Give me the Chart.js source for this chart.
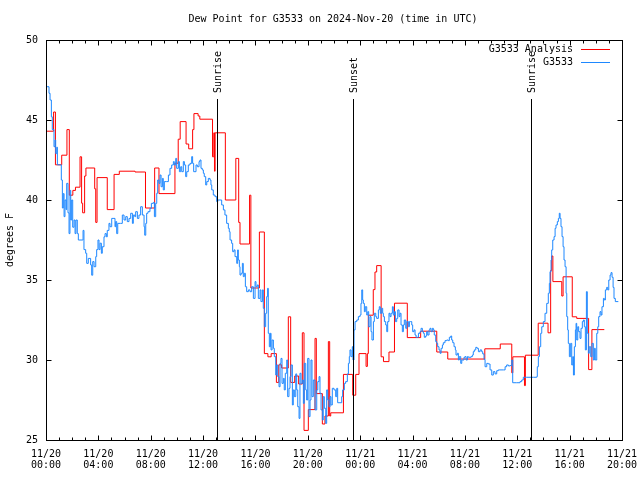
<!DOCTYPE html>
<html><head><meta charset="utf-8">
<script src="https://cdn.jsdelivr.net/npm/chart.js@4/dist/chart.umd.min.js"></script>
<style>html,body{margin:0;padding:0;background:#fff;}canvas{display:block;}</style>
</head><body>
<canvas id="c" width="640" height="480"></canvas>
<script>
const titleText = 'Dew Point for G3533 on 2024-Nov-20 (time in UTC)';
const yAxisLabel = 'degrees F';
const seriesNames = ['G3533 Analysis', 'G3533'];
const xTickLabels = [['11/20','00:00'],['11/20','04:00'],['11/20','08:00'],['11/20','12:00'],['11/20','16:00'],['11/20','20:00'],
                     ['11/21','00:00'],['11/21','04:00'],['11/21','08:00'],['11/21','12:00'],['11/21','16:00'],['11/21','20:00']];
const yTickValues = [25, 30, 35, 40, 45, 50];
const eventLabels = ['Sunrise', 'Sunset', 'Sunrise'];
const eventHours = [13.06, 23.47, 37.08];

// hours since 11/20 00:00 UTC, dew point degrees F
const analysisPoints = [
[0.0,44.3],[0.58,45.5],[0.72,42.2],[1.2,42.8],[1.6,44.4],[1.78,40.3],[2.05,40.6],[2.25,40.8],[2.6,42.7],[2.72,39.8],
[2.8,39.2],[2.95,41.5],[3.05,42.0],[3.72,40.7],[3.8,38.6],[3.9,41.4],[4.68,39.4],[5.2,41.6],[5.6,41.8],[6.8,41.75],
[7.6,39.5],[8.3,42.0],[8.63,40.4],[9.85,42.3],[10.1,43.8],[10.25,44.9],[10.7,43.5],[10.9,43.2],[11.2,44.4],[11.3,45.4],
[11.62,45.25],[11.75,45.05],[12.72,42.7],[12.82,44.2],[12.87,41.8],[12.92,44.2],[13.7,40.0],[14.5,42.6],[14.72,38.6],[14.82,37.25],
[15.55,40.3],[15.65,34.5],[16.3,38.0],[16.68,30.4],[16.95,30.2],[17.2,30.4],[17.6,28.6],[17.78,29.7],[18.0,29.5],[18.51,32.7],
[18.69,28.6],[19.0,29.0],[19.3,28.5],[19.58,31.7],[19.71,25.6],[20.04,26.9],[20.55,31.35],[20.65,27.9],[21.11,26.0],[21.31,26.5],
[21.57,31.15],[21.67,26.5],[21.75,26.7],[22.72,29.1],[23.43,27.8],[23.66,29.1],[23.91,30.4],[24.45,29.6],[24.55,30.4],[24.62,32.8],
[25.0,34.4],[25.13,35.5],[25.26,35.9],[25.6,30.2],[25.78,29.9],[26.2,30.5],[26.62,33.55],[27.6,31.4],[28.62,31.8],[29.85,30.5],
[30.69,30.06],[33.52,30.7],[34.7,31.0],[35.58,29.2],[35.66,30.2],[36.55,28.4],[36.62,30.3],[37.6,32.3],[38.35,31.7],[38.55,35.6],
[38.63,36.5],[38.72,34.9],[39.4,34.0],[39.5,35.2],[40.2,32.7],[40.54,32.6],[41.45,29.4],[41.7,31.9],[42.65,31.9]
];

const stationPoints = [
[0.05,47.08],[0.23,46.67],[0.31,46.25],[0.41,45.2],[0.48,44.4],[0.61,43.33],[0.69,43.75],[0.74,42.9],[0.82,43.3],[0.87,42.2],
[1.12,42.2],[1.17,41.25],[1.25,39.5],[1.32,40.4],[1.38,38.96],[1.45,40.0],[1.53,39.4],[1.58,41.04],[1.68,39.2],[1.76,37.9],
[1.83,40.6],[1.89,38.75],[1.96,40.0],[2.04,38.3],[2.14,38.75],[2.22,37.9],[2.29,38.75],[2.39,37.9],[2.47,37.5],[2.77,37.5],
[2.83,38.1],[2.9,36.9],[3.03,36.67],[3.11,36.04],[3.23,36.35],[3.41,35.94],[3.49,35.3],[3.57,36.15],[3.67,35.83],[3.8,36.46],
[3.87,36.9],[3.97,37.5],[4.05,36.9],[4.13,37.3],[4.23,36.67],[4.3,37.08],[4.43,37.7],[4.51,37.9],[4.61,37.7],[4.68,38.1],
[4.81,38.54],[4.89,38.33],[5.02,38.85],[5.19,38.85],[5.27,38.33],[5.32,38.65],[5.4,37.9],[5.48,38.54],[5.7,38.54],[5.83,39.06],
[5.96,38.75],[6.09,38.96],[6.21,38.65],[6.34,38.85],[6.47,39.17],[6.6,38.54],[6.67,39.06],[6.78,38.96],[6.85,39.27],[6.98,38.85],
[7.1,39.06],[7.23,39.58],[7.36,39.06],[7.49,38.33],[7.54,37.8],[7.62,38.54],[7.69,39.17],[7.79,39.27],[7.94,39.48],[8.05,39.79],
[8.2,39.85],[8.28,38.96],[8.38,39.79],[8.46,40.42],[8.53,41.25],[8.63,41.04],[8.71,41.56],[8.79,40.83],[8.89,41.35],[8.96,40.63],
[9.04,41.15],[9.22,41.15],[9.35,41.56],[9.47,41.98],[9.6,42.19],[9.73,42.4],[9.8,42.19],[9.91,42.6],[9.98,41.98],[10.11,42.4],
[10.19,41.77],[10.29,42.08],[10.37,41.77],[10.49,42.4],[10.57,42.19],[10.67,41.46],[10.75,41.77],[10.87,42.19],[11.0,42.29],[11.13,42.71],
[11.2,42.29],[11.28,41.77],[11.38,41.77],[11.46,42.19],[11.56,42.08],[11.69,42.4],[11.76,42.5],[11.84,41.98],[11.94,41.88],[12.02,41.67],
[12.09,41.46],[12.2,40.94],[12.28,41.15],[12.4,41.35],[12.53,41.25],[12.6,40.94],[12.66,40.63],[12.78,40.31],[12.91,40.21],[13.04,39.9],
[13.12,40.0],[13.29,40.0],[13.42,39.69],[13.55,39.38],[13.67,39.06],[13.8,38.54],[13.93,38.23],[14.0,38.02],[14.06,37.5],[14.18,37.29],
[14.26,36.77],[14.36,36.88],[14.44,36.46],[14.57,36.04],[14.64,36.88],[14.69,36.25],[14.77,35.83],[14.82,35.31],[14.9,35.42],[15.0,36.04],
[15.07,35.21],[15.15,35.42],[15.23,34.58],[15.33,34.27],[15.46,34.38],[15.58,34.27],[15.71,34.58],[15.84,33.85],[15.97,34.9],[16.04,34.58],
[16.14,34.69],[16.22,33.85],[16.35,34.38],[16.42,33.65],[16.53,34.38],[16.6,33.23],[16.68,32.08],[16.78,32.92],[16.86,33.96],[16.93,34.48],
[16.98,31.67],[17.06,30.83],[17.14,31.67],[17.19,30.63],[17.27,31.25],[17.37,30.73],[17.44,30.21],[17.55,29.06],[17.62,29.69],[17.7,28.96],
[17.8,28.33],[17.88,29.79],[17.95,30.1],[18.03,28.54],[18.13,28.85],[18.2,28.13],[18.28,29.17],[18.39,30.0],[18.46,27.71],[18.56,28.23],
[18.64,28.96],[18.72,29.69],[18.82,27.19],[18.89,28.13],[18.97,27.71],[19.08,29.13],[19.15,28.13],[19.23,27.08],[19.33,26.35],[19.4,29.17],
[19.48,28.54],[19.58,28.75],[19.66,27.29],[19.73,29.79],[19.84,28.13],[19.91,27.5],[19.99,30.1],[20.09,26.46],[20.17,27.5],[20.24,30.0],
[20.32,27.71],[20.42,28.75],[20.55,26.88],[20.68,28.13],[20.76,28.65],[20.86,28.96],[20.93,27.92],[21.01,26.88],[21.11,26.25],[21.18,27.71],
[21.26,26.98],[21.37,26.04],[21.44,28.13],[21.52,27.5],[21.62,27.08],[21.7,27.71],[21.77,27.19],[21.87,28.23],[22.0,28.13],[22.13,27.71],
[22.21,28.23],[22.28,27.33],[22.46,27.33],[22.59,27.71],[22.66,28.13],[22.79,28.54],[22.89,28.65],[23.02,29.13],[23.1,29.79],[23.17,30.21],
[23.22,30.63],[23.3,30.21],[23.4,30.83],[23.45,30.0],[23.53,31.88],[23.61,32.4],[23.74,32.5],[23.86,32.71],[23.99,32.81],[24.06,33.54],
[24.12,34.38],[24.19,33.75],[24.24,33.54],[24.32,33.02],[24.39,33.33],[24.5,32.81],[24.58,33.02],[24.65,32.08],[24.75,32.71],[24.83,31.77],
[24.9,31.25],[25.01,32.4],[25.08,32.92],[25.19,32.71],[25.26,32.6],[25.39,33.13],[25.46,33.33],[25.54,32.92],[25.65,33.23],[25.72,32.92],
[25.77,32.71],[25.85,32.4],[25.95,32.19],[26.03,31.77],[26.1,32.4],[26.2,32.92],[26.28,32.71],[26.36,32.92],[26.46,33.33],[26.53,32.81],
[26.61,33.02],[26.69,32.4],[26.79,32.6],[26.87,33.13],[26.97,32.71],[27.04,32.92],[27.12,32.19],[27.22,31.77],[27.3,32.19],[27.37,32.5],
[27.48,31.98],[27.56,32.4],[27.68,32.08],[27.76,32.4],[27.86,32.4],[27.94,32.19],[28.01,31.77],[28.11,31.88],[28.19,31.56],[28.27,31.42],
[28.37,31.42],[28.45,31.67],[28.57,31.77],[28.65,31.98],[28.75,31.77],[28.83,31.67],[28.9,31.42],[29.0,31.5],[29.08,31.77],[29.16,31.56],
[29.26,31.88],[29.33,31.98],[29.41,31.77],[29.51,31.98],[29.59,31.88],[29.66,31.56],[29.77,31.15],[29.85,31.04],[29.92,30.83],[30.02,30.63],
[30.1,30.42],[30.18,30.73],[30.28,30.94],[30.35,31.08],[30.48,31.21],[30.61,31.25],[30.73,31.21],[30.81,31.42],[30.92,31.5],[30.99,31.25],
[31.07,31.08],[31.17,30.83],[31.27,30.63],[31.32,30.31],[31.42,30.42],[31.5,30.0],[31.57,30.21],[31.68,29.79],[31.76,30.0],[31.83,30.0],
[31.93,30.17],[32.01,30.21],[32.09,30.0],[32.19,30.21],[32.26,30.17],[32.39,30.17],[32.47,30.21],[32.57,30.31],[32.64,30.52],[32.72,30.63],
[32.83,30.79],[32.93,30.73],[33.03,30.52],[33.16,30.63],[33.28,30.52],[33.36,30.38],[33.46,30.04],[33.54,29.58],[33.67,29.79],[33.79,29.75],
[33.92,29.38],[34.05,29.06],[34.17,29.27],[34.3,29.13],[34.43,29.33],[34.55,29.38],[34.68,29.38],[34.94,29.38],[35.07,29.58],[35.19,29.69],
[35.32,29.63],[35.45,29.65],[35.58,30.0],[35.65,28.58],[35.96,28.58],[36.21,28.65],[36.34,28.75],[36.46,28.92],[36.72,28.92],[37.23,28.92],
[37.49,28.96],[37.53,29.58],[37.61,30.21],[37.69,30.83],[37.79,31.67],[37.87,32.08],[37.99,32.4],[38.12,32.92],[38.25,33.54],[38.37,34.17],
[38.45,34.79],[38.5,35.52],[38.58,36.25],[38.63,36.88],[38.71,37.5],[38.81,37.71],[38.89,38.23],[38.96,38.44],[39.06,38.65],[39.14,38.85],
[39.21,39.17],[39.27,38.85],[39.34,38.33],[39.42,37.71],[39.5,37.08],[39.57,36.25],[39.65,35.83],[39.73,34.17],[39.78,32.71],[39.85,31.88],
[39.9,31.04],[39.98,30.21],[40.08,31.04],[40.16,29.69],[40.24,30.21],[40.29,29.06],[40.36,30.83],[40.44,31.88],[40.49,32.29],[40.54,31.25],
[40.62,32.08],[40.69,31.77],[40.79,31.35],[40.87,31.98],[40.97,32.4],[41.05,32.5],[41.12,32.08],[41.2,30.63],[41.28,34.27],[41.35,31.67],
[41.43,30.42],[41.5,30.83],[41.61,30.21],[41.71,31.04],[41.81,30.0],[41.89,30.73],[41.96,30.0],[42.07,31.67],[42.15,32.08],[42.22,32.71],
[42.32,33.02],[42.4,32.81],[42.47,33.33],[42.58,33.85],[42.65,33.75],[42.73,34.38],[42.83,34.54],[42.91,34.38],[42.99,35.0],[43.09,35.31],
[43.16,35.46],[43.24,35.17],[43.32,34.54],[43.39,33.85],[43.49,33.65],[43.72,33.65]
];

const FONT = '10px "DejaVu Sans Mono", "Liberation Mono", monospace';
const FAMILY = '"DejaVu Sans Mono", "Liberation Mono", monospace';

const decor = {
  id: 'decor',
  afterDatasetsDraw(chart) {
    const { ctx, chartArea: a, scales: { x, y } } = chart;
    ctx.save();
    ctx.strokeStyle = '#000';
    ctx.fillStyle = '#000';
    ctx.lineWidth = 1;
    const L = Math.round(a.left) + 0.5, R = Math.round(a.right) + 0.5, T = Math.round(a.top) + 0.5, B = Math.round(a.bottom) + 0.5;
    ctx.beginPath();
    for (let h = 0; h <= 44; h++) {
      const px = Math.round(x.getPixelForValue(h)) + 0.5;
      const len = (h % 4 === 0) ? 5 : 3;
      ctx.moveTo(px, B); ctx.lineTo(px, B - len);
      ctx.moveTo(px, T); ctx.lineTo(px, T + len);
    }
    for (const v of yTickValues) {
      const py = Math.round(y.getPixelForValue(v)) + 0.5;
      ctx.moveTo(L, py); ctx.lineTo(L + 5, py);
      ctx.moveTo(R, py); ctx.lineTo(R - 5, py);
    }
    ctx.stroke();
    ctx.strokeRect(L, T, R - L, B - T);

    ctx.font = FONT;
    eventHours.forEach((h, i) => {
      const px = Math.round(x.getPixelForValue(h)) + 0.5;
      ctx.beginPath();
      ctx.moveTo(px, 99); ctx.lineTo(px, B);
      ctx.stroke();
      ctx.save();
      ctx.translate(px + 1, 93);
      ctx.rotate(-Math.PI / 2);
      ctx.textAlign = 'left';
      ctx.textBaseline = 'middle';
      ctx.fillText(eventLabels[i], 0, 0);
      ctx.restore();
    });

    chart.data.datasets.forEach((ds, i) => {
      const ly = 49 + i * 13;
      ctx.textAlign = 'right';
      ctx.textBaseline = 'middle';
      ctx.fillStyle = '#000';
      ctx.fillText(ds.label, 573, ly);
      ctx.strokeStyle = ds.borderColor;
      ctx.beginPath();
      ctx.moveTo(581, ly + 0.5); ctx.lineTo(610, ly + 0.5);
      ctx.stroke();
    });

    ctx.fillStyle = '#000';
    ctx.textAlign = 'center';
    ctx.textBaseline = 'middle';
    ctx.fillText(titleText, 333, 19);
    ctx.save();
    ctx.translate(10, 240);
    ctx.rotate(-Math.PI / 2);
    ctx.fillText(yAxisLabel, 0, 0);
    ctx.restore();
    ctx.restore();
  }
};

new Chart(document.getElementById('c'), {
  type: 'line',
  data: {
    datasets: [
      { label: seriesNames[0], data: analysisPoints.map(p => ({ x: p[0], y: p[1] })),
        borderColor: '#ff0000', borderWidth: 1, pointRadius: 0, stepped: 'before', order: 1, tension: 0 },
      { label: seriesNames[1], data: stationPoints.map(p => ({ x: p[0], y: p[1] })),
        borderColor: '#1e88ff', borderWidth: 1, pointRadius: 0, stepped: 'before', order: 0, tension: 0 }
    ]
  },
  options: {
    responsive: false,
    animation: false,
    events: [],
    layout: { padding: { top: 40, right: 18, left: 0, bottom: 0 } },
    plugins: { legend: { display: false }, title: { display: false }, tooltip: { enabled: false } },
    scales: {
      x: {
        type: 'linear', min: 0, max: 44,
        afterFit: s => { s.height = 40; },
        grid: { display: false, drawTicks: true, tickLength: 9 },
        border: { display: false },
        afterBuildTicks: s => { s.ticks = xTickLabels.map((_, i) => ({ value: i * 4 })); },
        ticks: {
          autoSkip: false, maxRotation: 0, minRotation: 0, padding: 0,
          color: '#000', font: { family: FAMILY, size: 10, lineHeight: 1.1 },
          callback: (v) => xTickLabels[Math.round(v / 4)]
        }
      },
      y: {
        type: 'linear', min: 25, max: 50,
        afterFit: s => { s.width = 46; },
        grid: { display: false, drawTicks: true, tickLength: 8 },
        border: { display: false },
        afterBuildTicks: s => { s.ticks = yTickValues.map(v => ({ value: v })); },
        ticks: {
          padding: 0, color: '#000',
          font: { family: FAMILY, size: 10 },
          callback: v => String(v)
        }
      }
    }
  },
  plugins: [decor]
});
</script>
</body></html>
